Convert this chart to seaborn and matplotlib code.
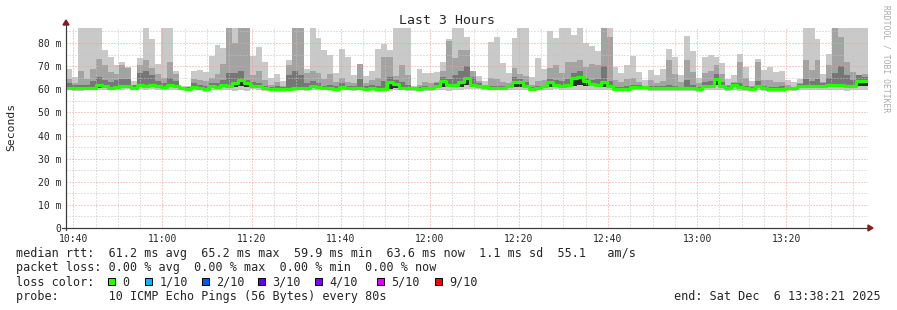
import numpy as np
import pandas as pd
import matplotlib
matplotlib.use("Agg")
import matplotlib.pyplot as plt
import seaborn as sns
from matplotlib.lines import Line2D
from matplotlib.patches import Rectangle, Polygon
from matplotlib.ticker import MultipleLocator, FuncFormatter

# ---------------- data (ms per 80 s step, 10:38:21 -> 13:38:21) ----------------
STEP_S = 80
START_MIN = 10 * 60 + 38 + 21 / 60

top = [68.8, 65.2, 88, 88, 88, 88, 77.0, 73.8, 70.7, 72.0,
       69.8, 63.5, 73.5, 88, 81.8, 71.0, 88, 88, 67.8, 61.2,
       61.6, 68.0, 68.4, 67.3, 74.5, 79.3, 78.0, 88, 88, 88,
       88, 74.5, 78.4, 72.0, 64.9, 66.6, 63.5, 72.7, 88, 88,
       68.8, 88, 82.2, 77.0, 75.0, 66.9, 77.4, 73.8, 66.3, 71.0,
       65.9, 68.0, 77.4, 79.6, 77.0, 88, 88, 88, 61.6, 68.8,
       66.9, 66.9, 67.3, 71.7, 81.8, 88, 88, 82.8, 68.0, 65.9,
       63.7, 80.3, 82.8, 71.2, 66.9, 82.2, 88, 88, 65.5, 73.5,
       68.8, 85.0, 82.2, 88, 88, 83.6, 88, 79.9, 78.9, 76.7,
       88, 88, 69.8, 66.9, 70.7, 74.5, 67.3, 64.0, 68.4, 66.3,
       68.8, 77.4, 73.8, 66.3, 83.2, 76.7, 64.9, 74.1, 75.0, 73.8,
       71.2, 64.5, 66.3, 75.3, 69.8, 63.5, 73.1, 68.4, 69.8, 67.3,
       68.0, 64.0, 63.0, 64.5, 88, 88, 81.8, 66.6, 75.3, 88,
       88, 88, 88, 88, 88]

mid = [64.5, 62.5, 68.0, 64.5, 68.8, 73.0, 70.6, 67.3, 66.6, 70.6,
       69.3, 62.0, 70.6, 72.7, 69.3, 66.6, 65.0, 71.7, 66.6, 60.8,
       60.8, 64.5, 64.0, 63.5, 65.0, 66.5, 71.0, 88, 80.0, 88,
       88, 66.0, 68.0, 64.0, 62.0, 63.0, 61.5, 70.6, 88, 88,
       67.0, 68.0, 67.0, 64.5, 66.5, 63.0, 65.0, 63.0, 62.5, 71.0,
       62.5, 64.0, 65.0, 74.0, 74.0, 65.9, 70.6, 66.0, 60.8, 62.0,
       63.0, 62.5, 63.0, 68.0, 81.0, 73.7, 77.0, 77.0, 68.0, 63.5,
       62.0, 65.0, 64.5, 63.0, 62.5, 69.3, 66.6, 65.9, 62.0, 63.5,
       64.0, 69.3, 70.3, 67.0, 71.7, 71.7, 72.7, 69.6, 71.0, 70.6,
       88, 82.8, 64.0, 63.0, 64.5, 65.0, 63.0, 61.5, 64.0, 62.5,
       63.5, 72.6, 66.6, 63.0, 72.6, 67.3, 62.5, 67.0, 68.0, 70.6,
       66.6, 62.0, 63.0, 72.0, 65.0, 61.5, 72.0, 64.0, 64.0, 63.0,
       63.0, 62.0, 61.0, 62.5, 72.6, 68.4, 72.6, 63.0, 70.7, 88,
       82.8, 72.0, 67.3, 66.3, 66.6]

inner = [62.5, 61.8, 62.0, 62.0, 63.5, 65.5, 64.0, 63.0, 64.0, 64.5,
         64.3, 61.8, 67.0, 68.0, 66.0, 63.5, 62.5, 65.0, 63.5, 60.8,
         60.8, 62.5, 62.0, 61.5, 62.5, 62.5, 64.0, 67.0, 67.0, 68.0,
         64.0, 63.0, 62.5, 61.5, 61.0, 61.5, 61.0, 66.0, 68.0, 66.0,
         62.5, 63.5, 62.5, 61.5, 62.0, 61.5, 62.5, 61.5, 61.5, 64.5,
         61.2, 62.0, 61.5, 63.5, 65.5, 64.0, 63.0, 62.0, 60.8, 61.0,
         61.5, 61.0, 62.5, 65.5, 64.5, 66.0, 68.0, 70.0, 65.5, 62.5,
         61.5, 61.5, 61.5, 61.5, 62.0, 65.5, 64.5, 63.0, 61.0, 61.5,
         62.0, 64.5, 64.0, 63.5, 64.5, 67.0, 68.0, 65.0, 64.0, 64.5,
         70.0, 63.5, 61.0, 61.0, 61.5, 62.0, 62.0, 61.2, 61.5, 61.2,
         61.5, 62.0, 61.5, 61.0, 64.0, 62.0, 61.0, 63.0, 63.5, 66.5,
         63.0, 61.5, 62.5, 62.5, 61.5, 60.8, 63.5, 61.5, 60.8, 60.8,
         61.2, 61.0, 61.0, 62.2, 64.5, 63.5, 64.5, 62.5, 65.0, 67.0,
         70.0, 66.0, 64.0, 66.0, 65.5]

med = [60.6, 60.4, 60.4, 60.6, 60.7, 61.9, 61.2, 60.7, 61.0, 61.3,
       61.4, 60.7, 61.7, 61.3, 61.9, 61.2, 60.9, 61.7, 61.3, 60.6,
       60.3, 61.0, 60.7, 60.0, 61.4, 61.0, 61.9, 61.4, 62.9, 63.9,
       62.6, 61.6, 61.2, 60.4, 60.1, 60.1, 60.0, 60.3, 60.4, 60.6,
       60.4, 61.2, 60.9, 60.6, 60.4, 60.3, 60.9, 60.7, 60.4, 60.6,
       60.3, 60.4, 60.0, 60.0, 63.3, 62.3, 60.7, 60.4, 60.4, 60.3,
       60.4, 60.4, 61.2, 63.7, 61.7, 61.7, 63.0, 64.8, 62.0, 61.4,
       60.9, 60.6, 60.6, 60.6, 61.2, 63.2, 63.2, 61.3, 60.3, 60.6,
       61.2, 63.0, 61.7, 61.4, 62.0, 64.8, 65.2, 63.7, 62.3, 61.9,
       63.2, 61.3, 60.3, 60.3, 60.3, 61.0, 61.0, 61.0, 60.4, 60.4,
       60.4, 60.4, 60.4, 60.4, 60.4, 60.4, 60.0, 61.4, 61.4, 64.5,
       61.3, 60.6, 61.7, 60.9, 60.6, 60.3, 61.2, 60.6, 59.9, 59.9,
       60.1, 60.4, 60.4, 61.6, 61.6, 61.4, 61.6, 61.3, 61.7, 62.0,
       61.9, 61.2, 61.4, 63.5, 63.6]

core_lo = [60.0, 59.8, 59.8, 60.0, 60.1, 60.6, 60.6, 60.1, 60.4, 60.6,
           60.7, 60.1, 60.8, 60.7, 60.8, 60.6, 60.3, 60.8, 60.7, 60.0,
           59.7, 60.4, 60.1, 59.4, 60.7, 60.4, 60.8, 60.8, 61.0, 61.5,
           61.0, 61.0, 60.6, 59.8, 59.5, 59.5, 59.4, 59.7, 59.8, 60.0,
           59.8, 60.6, 60.3, 60.0, 59.8, 59.7, 60.3, 60.1, 59.8, 60.0,
           59.7, 59.8, 59.4, 59.4, 60.3, 60.5, 60.1, 59.8, 59.8, 59.7,
           59.8, 59.8, 60.6, 61.0, 61.0, 61.0, 61.0, 62.0, 61.0, 60.8,
           60.3, 60.0, 60.0, 60.0, 60.6, 61.0, 61.0, 60.7, 59.7, 60.0,
           60.6, 61.0, 61.0, 60.8, 61.0, 61.5, 62.0, 61.5, 61.3, 61.3,
           61.0, 60.7, 59.7, 59.7, 59.7, 60.4, 60.4, 60.4, 59.8, 59.8,
           59.8, 59.8, 59.8, 59.8, 59.8, 59.8, 59.4, 60.8, 60.8, 62.0,
           60.7, 60.0, 61.0, 60.3, 60.0, 59.7, 60.6, 60.0, 59.3, 59.3,
           59.5, 59.8, 59.8, 61.0, 61.0, 60.8, 61.0, 60.7, 61.0, 61.3,
           61.2, 60.6, 60.8, 61.5, 61.5]

low = [59.5, 59.4, 59.3, 59.5, 59.5, 59.8, 59.8, 59.6, 59.6, 59.8,
       59.9, 59.6, 59.9, 59.8, 59.9, 59.7, 59.6, 59.8, 59.8, 59.5,
       59.2, 59.7, 59.5, 58.9, 59.8, 59.6, 59.7, 59.6, 59.4, 59.6,
       59.4, 59.9, 59.7, 59.3, 59.1, 59.0, 59.0, 59.2, 59.4, 59.5,
       59.3, 59.8, 59.6, 59.5, 59.3, 59.2, 59.6, 59.5, 59.3, 59.5,
       59.2, 59.2, 58.9, 58.8, 59.2, 59.6, 59.5, 59.3, 59.3, 59.2,
       59.3, 59.3, 59.7, 59.5, 59.4, 59.6, 59.7, 60.1, 60.0, 59.9,
       59.6, 59.5, 59.5, 59.5, 59.8, 59.7, 59.8, 59.8, 59.2, 59.5,
       59.8, 59.7, 59.9, 59.7, 59.6, 59.6, 59.8, 59.7, 59.8, 59.6,
       59.6, 59.6, 59.2, 59.2, 59.2, 59.6, 59.6, 59.6, 59.3, 59.3,
       59.3, 59.3, 59.2, 59.3, 59.3, 59.3, 58.9, 59.7, 59.6, 59.8,
       59.5, 59.3, 59.6, 59.4, 59.3, 59.2, 59.6, 59.4, 58.8, 58.8,
       59.0, 59.3, 59.2, 59.6, 59.6, 59.5, 59.6, 59.5, 59.6, 59.5,
       59.6, 59.4, 59.5, 59.8, 59.8]

loss_labels = ["0", "1/10", "2/10", "3/10", "4/10", "5/10", "9/10"]
loss_colors = ["#26ff00", "#00b8ff", "#0059ff", "#5e00ff", "#7e00ff", "#dd00ff", "#ff0000"]

legend_lines = [
    "median rtt:  61.2 ms avg  65.2 ms max  59.9 ms min  63.6 ms now  1.1 ms sd  55.1   am/s",
    "packet loss: 0.00 % avg  0.00 % max  0.00 % min  0.00 % now",
    "loss color:",
    "probe:       10 ICMP Echo Pings (56 Bytes) every 80s",
]
end_text = "end: Sat Dec  6 13:38:21 2025"
title = "Last 3 Hours"
ylabel = "Seconds"
watermark = "RRDTOOL / TOBI OETIKER"

# ---------------- figure ----------------
sns.set_style("white")
plt.rcParams["font.family"] = ["DejaVu Sans Mono", "DejaVu Sans"]

W, H = 897, 310
fig = plt.figure(figsize=(W / 100, H / 100), dpi=100)
fig.patch.set_facecolor("white")


def fx(px):
    return px / W


def fy(py):
    return 1 - py / H


AX_L, AX_R, AX_T, AX_B = 66, 868, 28, 228
ax = fig.add_axes([fx(AX_L), fy(AX_B), (AX_R - AX_L) / W, (AX_B - AX_T) / H])

n = len(med)
x = START_MIN + np.arange(n + 1) * STEP_S / 60.0


def ext(a):
    a = np.asarray(a, dtype=float)
    return np.r_[a, a[-1]]


ax.fill_between(x, ext(low), ext(top), step="post", color="#c9c9c9", lw=0, zorder=1)
ax.fill_between(x, ext(core_lo), ext(mid), step="post", color="#a3a3a3", lw=0, zorder=1.1)
ax.fill_between(x, ext(core_lo), ext(inner), step="post", color="#767676", lw=0, zorder=1.2)
ax.fill_between(x, ext(core_lo), ext(med), step="post", color="#2e2e2e", lw=0, zorder=1.3)

df = pd.DataFrame({"t": x, "rtt": ext(med)})
sns.lineplot(data=df, x="t", y="rtt", drawstyle="steps-post", color="#26ff00",
             lw=2.3, ax=ax, zorder=3)

ax.set_xlim(START_MIN, START_MIN + n * STEP_S / 60.0)
ax.set_ylim(0, (AX_B - AX_T) / 2.3125)
ax.set_xlabel("")
ax.set_ylabel("")

ax.xaxis.set_major_locator(MultipleLocator(20))
ax.xaxis.set_minor_locator(MultipleLocator(5))
ax.yaxis.set_major_locator(MultipleLocator(10))
ax.yaxis.set_minor_locator(MultipleLocator(5))
ax.xaxis.set_major_formatter(FuncFormatter(lambda v, p: f"{int(v // 60)}:{int(round(v % 60)):02d}"))
ax.yaxis.set_major_formatter(FuncFormatter(lambda v, p: "0" if v == 0 else f"{int(v)} m"))

PX = 0.72
ax.set_axisbelow(False)
ax.grid(which="minor", color="#c4c4c4", lw=PX, linestyle=(0, (1, 2)))
ax.grid(which="major", color="#f19a9a", lw=PX, linestyle=(0, (1, 2)))
for s in ax.spines.values():
    s.set_visible(False)
ax.tick_params(axis="both", which="major", length=3 * PX, width=PX, color="#404040",
               direction="out", labelsize=7, pad=2 * PX)
ax.tick_params(axis="both", which="minor", length=2 * PX, width=PX, color="#404040",
               direction="out")
ax.tick_params(axis="x", which="major", pad=3 * PX)

# axes lines with arrows
axis_col = "#3a3a3a"
fig.add_artist(Line2D([fx(AX_L), fx(AX_L)], [fy(AX_B + 2), fy(24)], color=axis_col, lw=PX * 1.2))
fig.add_artist(Line2D([fx(62), fx(868)], [fy(AX_B), fy(AX_B)], color=axis_col, lw=PX * 1.2))
arrow_col = "#8b1a1a"
fig.add_artist(Polygon([[fx(AX_L - 3), fy(25)], [fx(AX_L + 3), fy(25)], [fx(AX_L), fy(20)]],
                       closed=True, color=arrow_col))
fig.add_artist(Polygon([[fx(868), fy(AX_B - 3)], [fx(868), fy(AX_B + 3)], [fx(873), fy(AX_B)]],
                       closed=True, color=arrow_col))

# texts
fig.text(fx(447), fy(20), title, ha="center", va="center", fontsize=9.5)
fig.text(fx(11), fy(127), ylabel, ha="center", va="center", rotation=90, fontsize=8.2)
fig.text(fx(886), fy(5), watermark, ha="center", va="top", rotation=270,
         fontsize=5.8, color="#aaaaaa")

ys = [254, 268, 282, 296.5]
for txt, yy in zip(legend_lines, ys):
    fig.text(fx(16), fy(yy), txt, ha="left", va="center", fontsize=8.5)
fig.text(fx(881), fy(ys[3]), end_text, ha="right", va="center", fontsize=8.5)

box_x = [108, 145, 202, 258, 315, 377, 435]
for bx, lab, col in zip(box_x, loss_labels, loss_colors):
    fig.add_artist(Rectangle((fx(bx), fy(285)), 7 / W, 7.5 / H, facecolor=col,
                             edgecolor="black", lw=PX))
    fig.text(fx(bx + 14.5), fy(ys[2]), lab, ha="left", va="center", fontsize=8.5)

fig.savefig("out.png", dpi=100, facecolor="white")
